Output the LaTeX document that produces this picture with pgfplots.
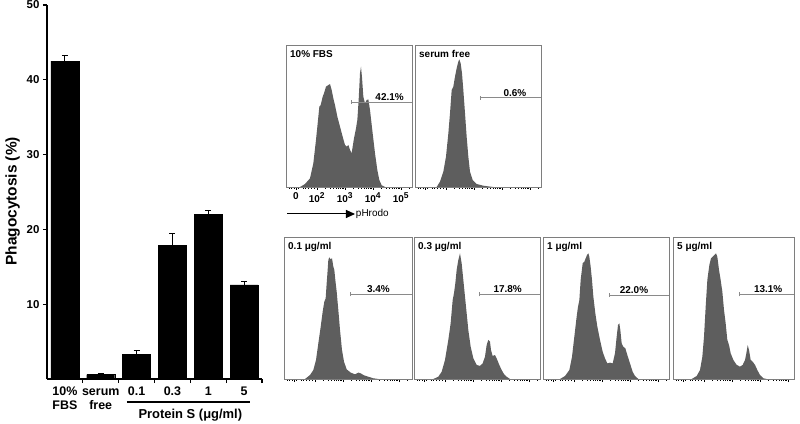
\documentclass[border=0pt]{standalone}
\usepackage{fontspec}
\setmainfont{Liberation Sans}
\usepackage{pgfplots}
\pgfplotsset{compat=1.18}
\usetikzlibrary{arrows.meta}

\definecolor{histfill}{HTML}{5E5E5E}
\definecolor{boxgray}{HTML}{7E7E7E}
\definecolor{gategray}{HTML}{8A8A8A}

% flow cytometry panel: x in decades of pHrodo signal, y in % of panel height
\pgfplotsset{
  facs/.style 2 args={
    scale only axis, width=#1bp, height=142bp,
    xmin=0.9, xmax=#2, ymin=0, ymax=100,
    axis on top, clip=false,
    axis line style={boxgray, line width=0.9bp},
    ytick=\empty,
    xtick={1.25,2,3,4,5}, xticklabels=\empty,
    minor xtick={1.0,1.1,1.2,1.35,1.5,1.6,1.7,1.8,1.9,
      2.301,2.477,2.602,2.699,2.778,2.845,2.903,2.954,
      3.301,3.477,3.602,3.699,3.778,3.845,3.903,3.954,
      4.301,4.477,4.602,4.699,4.778,4.845,4.903,4.954,5.301},
    xtick pos=bottom, tick align=outside,
    tick style={black, line width=0.5bp},
    major tick length=3bp, minor tick length=1.8bp,
    xticklabel style={font=\bfseries\fontsize{10}{11}\selectfont, inner sep=1bp, anchor=north, yshift=-1bp},
  },
  hist/.style={fill=histfill, draw=none},
}

\newcommand{\dec}[1]{10\raisebox{4.5bp}{\fontsize{8.5}{9}\selectfont #1}}
\newcommand{\gate}[4]{%
  \draw[gategray, line width=0.7bp] (axis cs:#1,#2) -- ({axis cs:#1,#2} -| {rel axis cs:1,0});
  \draw[gategray, line width=0.7bp] ([yshift=-2bp]axis cs:#1,#2) -- ([yshift=2bp]axis cs:#1,#2);
  \node[anchor=south, inner sep=1.2bp, font=\bfseries\fontsize{10}{11}\selectfont] at (axis cs:#3,#2) {#4};
}
\newcommand{\paneltitle}[1]{%
  \node[anchor=north west, inner sep=0pt, font=\bfseries\fontsize{10}{11}\selectfont]
    at ([xshift=4bp,yshift=-5bp]rel axis cs:0,1) {#1};
}

\begin{document}
\begin{tikzpicture}
\useasboundingbox (0,0) rectangle (800bp,424bp);

% ---------------- bar chart ----------------
\begin{axis}[
  at={(47bp,45bp)}, anchor=south west,
  scale only axis, width=215bp, height=374bp,
  xmin=0, xmax=6, ymin=0, ymax=50,
  axis x line=bottom, axis y line=left,
  axis line style={line width=1.6bp, -},
  clip=false,
  ytick={10,20,30,40,50}, yticklabels={10,20,30,40,50},
  xtick={0.5,1.5,2.5,3.5,4.5,5.5},
  xticklabels={{\strut 10\%\\FBS},{\strut serum\\free},\strut 0.1,\strut 0.3,\strut 1,\strut 5},
  minor xtick={1,2,3,4,5,6},
  major x tick style={draw=none},
  tick align=outside, major tick length=4bp, minor tick length=4bp,
  tick style={line width=1.3bp, black},
  yticklabel style={font=\bfseries\fontsize{11.5}{13}\selectfont},
  xticklabel style={font=\bfseries\fontsize{12.5}{14}\selectfont, align=center, inner sep=1bp, yshift=-2bp},
  ylabel={Phagocytosis (\%)},
  ylabel style={font=\bfseries\fontsize{15.5}{17}\selectfont, at={(axis description cs:-0.16,0.475)}, anchor=center},
]
\addplot[ybar, fill=black, draw=black, bar width=28bp,
  error bars/.cd, y dir=plus, y explicit,
  error bar style={line width=1bp, black},
  error mark options={rotate=90, mark size=3bp, line width=1bp, black}]
  coordinates {
    (0.5,42.5) +- (0,0.8)
    (1.5,0.6)  +- (0,0.15)
    (2.5,3.3)  +- (0,0.5)
    (3.5,17.9) +- (0,1.5)
    (4.5,22.0) +- (0,0.5)
    (5.5,12.6) +- (0,0.4)
  };
\draw[line width=1.3bp] ([yshift=-23bp]axis cs:2.23,0) -- ([yshift=-23bp]axis cs:5.67,0);
\node[font=\bfseries\fontsize{13}{15}\selectfont] at ([yshift=-36bp]axis cs:4.0,0) {Protein S (μg/ml)};
\end{axis}

% ---------------- 10% FBS ----------------
\begin{axis}[facs={126}{5.4}, at={(286bp,237bp)}, anchor=south west,
  xticklabels={\strut 0,\strut\dec{2},\strut\dec{3},\strut\dec{4},\strut\dec{5}}]
\addplot[hist] coordinates {
  (1.40,0) (1.579,2.1) (1.757,6.1) (1.876,16.7) (1.971,33.1) (2.055,49.5)
  (2.091,56.6) (2.138,57.7) (2.21,63.6) (2.257,66.0) (2.329,70.7) (2.412,71.8)
  (2.472,72.5) (2.531,68.3) (2.591,62.4) (2.65,57.7) (2.734,49.5) (2.829,42.5)
  (2.924,35.4) (3.007,29.6) (3.067,28.4) (3.126,29.6) (3.186,26.1) (3.245,23.7)
  (3.281,28.4) (3.329,34.3) (3.40,41.3) (3.448,47.2) (3.495,61.3) (3.543,80.1)
  (3.579,84.7) (3.615,77.0) (3.662,63.6) (3.722,58.9) (3.781,61.3) (3.841,61.7)
  (3.90,54.2) (3.995,37.8) (4.079,23.7) (4.162,12.0) (4.233,4.9) (4.317,1.2) (4.436,0)
} \closedcycle;
\paneltitle{10\% FBS}
\gate{3.245}{59.9}{4.6}{42.1\%}
\draw[-{Triangle[length=9bp,width=8bp]}, line width=1bp]
  ([yshift=-27bp]axis cs:0.936,0) -- ([yshift=-27bp]axis cs:3.364,0)
  node[right, inner sep=0.5bp, font=\fontsize{10}{11}\selectfont] {pHrodo};
\end{axis}

% ---------------- serum free ----------------
\begin{axis}[facs={126}{5.4}, at={(415bp,237bp)}, anchor=south west]
\addplot[hist] coordinates {
  (1.674,0) (1.793,3.8) (1.912,10.8) (2.007,21.4) (2.091,37.8) (2.15,51.9)
  (2.21,68.3) (2.269,70.7) (2.329,77.7) (2.388,83.6) (2.448,88.3) (2.484,89.9)
  (2.531,87.1) (2.579,80.0) (2.626,68.3) (2.686,51.9) (2.745,35.4) (2.805,21.4)
  (2.864,10.8) (2.96,4.9) (3.103,2.1) (3.341,0.9) (3.698,0)
} \closedcycle;
\paneltitle{serum free}
\gate{3.22}{62.9}{4.47}{0.6\%}
\end{axis}

% ---------------- 0.1 ug/ml ----------------
\begin{axis}[facs={128}{5.471}, at={(284bp,45bp)}, anchor=south west]
\addplot[hist] coordinates {
  (1.65,0) (1.829,2.8) (1.947,6.3) (2.043,13.4) (2.126,25.1) (2.21,36.8)
  (2.281,47.4) (2.34,54.5) (2.388,56.8) (2.424,67.4) (2.459,76.8) (2.483,83.8)
  (2.519,85.7) (2.567,84.3) (2.614,85.0) (2.662,79.1) (2.697,76.8) (2.733,69.7)
  (2.781,61.5) (2.84,48.6) (2.90,34.5) (2.971,20.4) (3.043,12.2) (3.138,6.8)
  (3.281,4.5) (3.436,3.3) (3.555,4.5) (3.638,4.0) (3.757,2.6) (3.912,1.6)
  (4.09,0.5) (4.269,0)
} \closedcycle;
\paneltitle{0.1 μg/ml}
\gate{3.281}{59.6}{4.27}{3.4\%}
\end{axis}

% ---------------- 0.3 ug/ml ----------------
\begin{axis}[facs={126}{5.4}, at={(414bp,45bp)}, anchor=south west]
\addplot[hist] coordinates {
  (1.59,0) (1.769,1.6) (1.888,5.1) (2.007,13.4) (2.126,27.5) (2.209,39.2)
  (2.281,55.6) (2.328,60.4) (2.376,67.4) (2.424,76.8) (2.483,83.8) (2.543,88.5)
  (2.602,81.5) (2.662,69.7) (2.721,58.0) (2.781,46.3) (2.84,34.5) (2.924,22.7)
  (3.019,14.6) (3.138,9.9) (3.257,9.2) (3.352,11.0) (3.435,15.7) (3.495,23.9)
  (3.554,27.5) (3.614,26.3) (3.65,20.4) (3.709,16.2) (3.793,16.9) (3.876,13.4)
  (3.947,9.9) (4.031,6.3) (4.114,3.5) (4.209,1.6) (4.328,0)
} \closedcycle;
\paneltitle{0.3 μg/ml}
\gate{3.233}{59.6}{4.245}{17.8\%}
\end{axis}

% ---------------- 1 ug/ml ----------------
\begin{axis}[facs={126}{5.4}, at={(543bp,45bp)}, anchor=south west]
\addplot[hist] coordinates {
  (1.507,0) (1.686,2.1) (1.841,6.3) (1.936,15.7) (2.019,29.8) (2.102,43.9)
  (2.15,50.9) (2.198,55.6) (2.245,69.7) (2.317,81.5) (2.376,82.6) (2.424,85.0)
  (2.472,87.3) (2.519,88.5) (2.555,86.1) (2.602,79.1) (2.65,69.7) (2.698,58.0)
  (2.769,46.3) (2.841,36.8) (2.936,27.5) (3.031,19.2) (3.114,14.6) (3.198,11.0)
  (3.293,11.5) (3.388,11.0) (3.471,18.1) (3.531,29.8) (3.579,38.0) (3.626,39.2)
  (3.662,34.5) (3.71,25.1) (3.769,22.7) (3.841,21.6) (3.912,16.9) (4.007,11.0)
  (4.102,5.1) (4.186,2.1) (4.305,0)
} \closedcycle;
\paneltitle{1 μg/ml}
\gate{3.257}{59.2}{4.15}{22.0\%}
\end{axis}

% ---------------- 5 ug/ml ----------------
\begin{axis}[facs={121}{5.221}, at={(673bp,45bp)}, anchor=south west]
\addplot[hist] coordinates {
  (1.567,0) (1.745,2.1) (1.864,6.3) (1.948,15.7) (2.007,29.8) (2.067,50.9)
  (2.126,69.7) (2.198,80.3) (2.257,85.0) (2.317,86.1) (2.376,87.3) (2.436,88.5)
  (2.483,86.1) (2.543,76.8) (2.602,69.7) (2.662,61.5) (2.721,48.6) (2.781,39.2)
  (2.84,27.5) (2.90,23.9) (2.959,18.1) (3.055,13.4) (3.174,9.9) (3.293,8.7)
  (3.388,9.9) (3.471,13.4) (3.519,18.1) (3.567,23.9) (3.614,20.4) (3.674,13.4)
  (3.745,12.2) (3.829,9.9) (3.912,6.3) (4.007,2.8) (4.126,0.5) (4.245,0)
} \closedcycle;
\paneltitle{5 μg/ml}
\gate{3.257}{59.6}{4.30}{13.1\%}
\end{axis}
\end{tikzpicture}
\end{document}
